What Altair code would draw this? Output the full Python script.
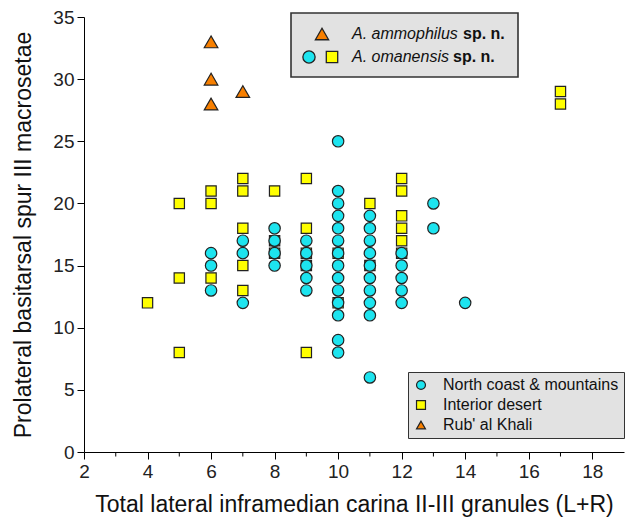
import altair as alt
import pandas as pd

# North coast & mountains (circles)
coast_x = [6, 6, 6,
           7, 7, 7,
           8, 8, 8, 8,
           9, 9, 9, 9, 9,
           10, 10, 10, 10, 10, 10, 10, 10, 10, 10, 10, 10, 10, 10,
           11, 11, 11, 11, 11, 11, 11, 11, 11, 11,
           12, 12, 12, 12, 12,
           13, 13,
           14]
coast_y = [16, 15, 13,
           17, 16, 12,
           18, 17, 16, 15,
           17, 16, 15, 14, 13,
           25, 21, 20, 19, 18, 17, 16, 15, 14, 13, 12, 11, 9, 8,
           19, 18, 17, 16, 15, 14, 13, 12, 11, 6,
           16, 15, 14, 13, 12,
           20, 18,
           12]

# Interior desert (squares)
desert_x = [4,
            5, 5, 5,
            6, 6, 6,
            7, 7, 7, 7, 7,
            8, 8, 8,
            9, 9, 9, 9, 9,
            10, 10,
            11, 11,
            12, 12, 12, 12, 12, 12,
            17, 17]
desert_y = [12,
            20, 14, 8,
            21, 20, 14,
            22, 21, 18, 15, 13,
            21, 17, 16,
            22, 18, 16, 15, 8,
            16, 12,
            20, 15,
            22, 21, 19, 18, 17, 16,
            29, 28]

# Rub' al Khali (triangles)
sands_x = [6, 6, 6, 7]
sands_y = [33, 30, 28, 29]

regions = ["North coast & mountains", "Interior desert", "Rub' al Khali"]
region_colors = ["#1de4ef", "#ffff00", "#f77f00"]
region_shapes = ["circle", "square", "triangle-up"]
region_sizes = [130, 106, 185]  # symbol areas in px²

x_major = [2, 4, 6, 8, 10, 12, 14, 16, 18]
x_minor = [3, 5, 7, 9, 11, 13, 15, 17]
y_major = [0, 5, 10, 15, 20, 25, 30, 35]

FONT = "Liberation Sans"
EDGE = "#222222"

# squares first so circles sit on top of them, triangles last
df = pd.concat([
    pd.DataFrame({"granules": desert_x, "macrosetae": desert_y, "region": regions[1]}),
    pd.DataFrame({"granules": coast_x, "macrosetae": coast_y, "region": regions[0]}),
    pd.DataFrame({"granules": sands_x, "macrosetae": sands_y, "region": regions[2]}),
], ignore_index=True)
df["area"] = df["region"].map(dict(zip(regions, region_sizes)))

legend = alt.Legend(
    title=None, orient="none", legendX=324, legendY=355,
    fillColor="#e2e2e2", strokeColor="#333333", padding=5,
    labelFont=FONT, labelFontSize=16, labelColor="#111111", labelOffset=14,
    labelLimit=0,
    symbolSize=80, symbolStrokeColor=EDGE, symbolStrokeWidth=1.2,
    rowPadding=4,
)

x_scale = alt.Scale(domain=[2, 19], nice=False, zero=False)
y_scale = alt.Scale(domain=[0, 35], nice=False)

points = alt.Chart(df).mark_point(
    filled=True, opacity=1, stroke=EDGE, strokeWidth=1.2
).encode(
    x=alt.X("granules:Q", scale=x_scale,
            title="Total lateral inframedian carina II-III granules (L+R)",
            axis=alt.Axis(values=x_major, labelFlush=False, titlePadding=12)),
    y=alt.Y("macrosetae:Q", scale=y_scale,
            title="Prolateral basitarsal spur III macrosetae",
            axis=alt.Axis(values=y_major, labelFlush=False, titlePadding=17)),
    color=alt.Color("region:N", scale=alt.Scale(domain=regions, range=region_colors), legend=legend),
    shape=alt.Shape("region:N", scale=alt.Scale(domain=regions, range=region_shapes), legend=legend),
    size=alt.Size("area:Q", scale=None),
)

minor_ticks = alt.Chart(pd.DataFrame({"m": x_minor})).mark_rule(
    color="#000000", strokeWidth=1
).encode(x=alt.X("m:Q", scale=x_scale), y=alt.value(435), y2=alt.value(439.5))

# species key in the upper box
one = pd.DataFrame({"k": [0]})
key_box = alt.Chart(one).mark_rect(
    fill="#e2e2e2", stroke="#333333", strokeWidth=1.6
).encode(x=alt.value(207), x2=alt.value(434), y=alt.value(-4), y2=alt.value(60))

key_tri = alt.Chart(one).mark_point(
    shape="triangle-up", filled=True, fill="#f77f00", stroke=EDGE, strokeWidth=1.3, size=175, opacity=1
).encode(x=alt.value(238), y=alt.value(17))
key_circ = alt.Chart(one).mark_point(
    shape="circle", filled=True, fill="#1de4ef", stroke=EDGE, strokeWidth=1.3, size=150, opacity=1
).encode(x=alt.value(225), y=alt.value(40))
key_sq = alt.Chart(one).mark_point(
    shape="square", filled=True, fill="#ffff00", stroke=EDGE, strokeWidth=1.3, size=130, opacity=1
).encode(x=alt.value(248), y=alt.value(40))


def key_text(label, x, y, style, weight):
    return alt.Chart(one).mark_text(
        text=label, font=FONT, fontSize=16, fontStyle=style, fontWeight=weight,
        align="left", baseline="middle", color="#111111"
    ).encode(x=alt.value(x), y=alt.value(y))


key_texts = [
    key_text("A. ammophilus", 268, 17, "italic", "normal"),
    key_text("sp. n.", 379, 17, "normal", "bold"),
    key_text("A. omanensis", 268, 40, "italic", "normal"),
    key_text("sp. n.", 369, 40, "normal", "bold"),
]

chart = alt.layer(
    minor_ticks, points, key_box, key_tri, key_circ, key_sq, *key_texts
).properties(
    width=540, height=435,
    autosize=alt.AutoSizeParams(type="none"),
    padding={"left": 84, "top": 17, "right": 1, "bottom": 71},
).configure_axis(
    grid=False, labelFont=FONT, titleFont=FONT,
    labelFontSize=19, titleFontSize=23, titleFontWeight="normal",
    labelColor="#222222", titleColor="#111111",
    domainColor="#000000", tickColor="#000000", domainWidth=1, tickWidth=1,
    tickSize=7, labelPadding=3,
).configure_view(stroke=None)

chart.save("out.html", embed_options={"renderer": "svg", "actions": False})
